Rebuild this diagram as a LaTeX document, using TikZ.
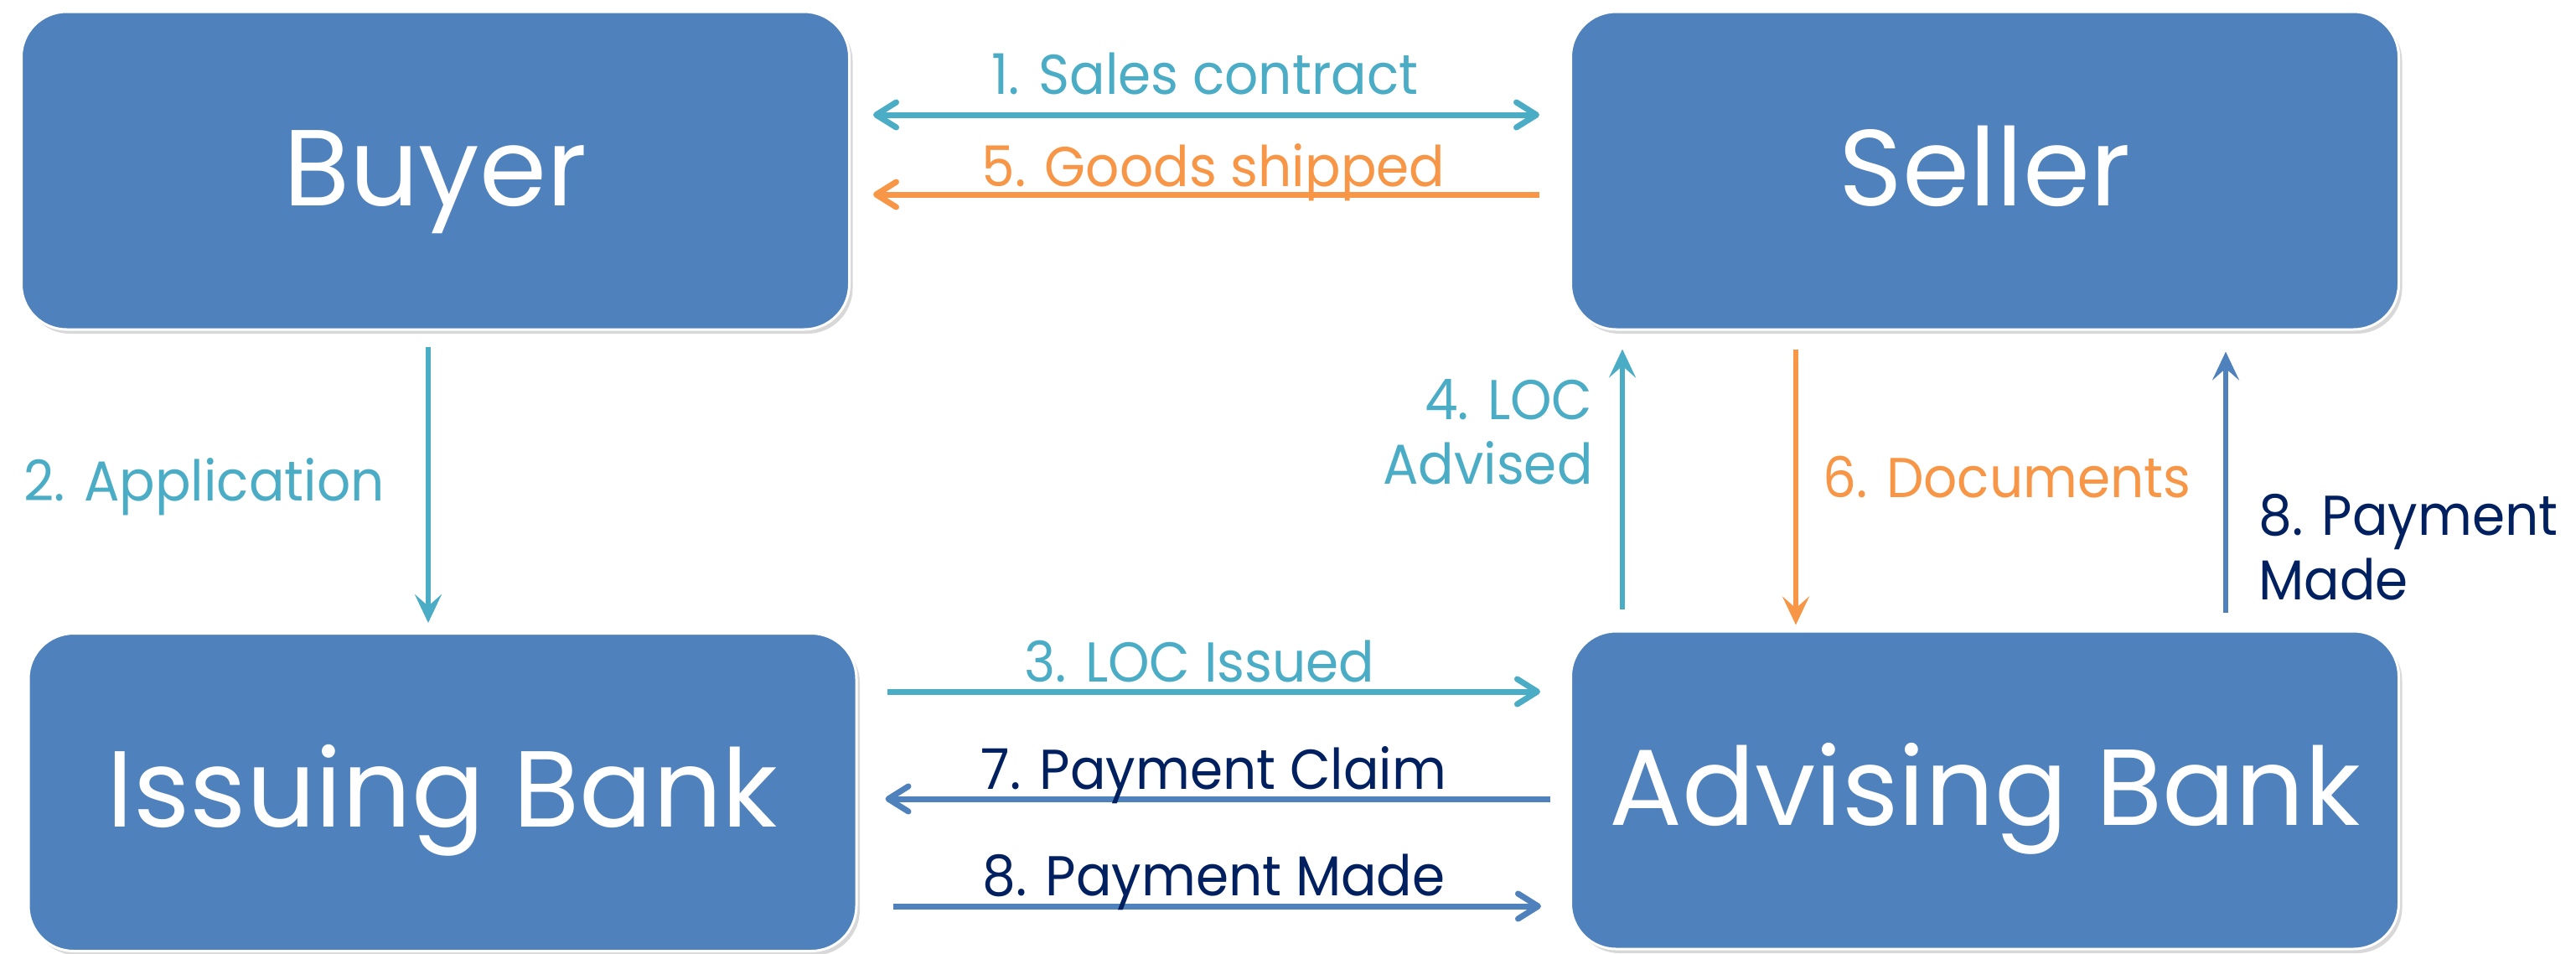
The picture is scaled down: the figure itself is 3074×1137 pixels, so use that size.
\documentclass[tikz,border=0pt]{standalone}
\usepackage{fontspec}
\setmainfont{Poppins}
\newfontfamily\labfont[FakeStretch=0.94]{Poppins}
\usetikzlibrary{arrows.meta,shadows}
\definecolor{boxblue}{HTML}{4F81BD}
\definecolor{myteal}{HTML}{4BACC6}
\definecolor{orng}{HTML}{F79646}
\definecolor{navyc}{HTML}{002060}
\begin{document}
\begin{tikzpicture}[x=0.5pt,y=-0.5pt,
  party/.style={rectangle, rounded corners=27pt, fill=boxblue, draw=white, line width=1.5pt,
    minimum width=494pt, minimum height=189.5pt, inner sep=0pt, text=white,
    font=\fontsize{64.5}{70}\selectfont, text height=41.5pt, text depth=0pt,
    drop shadow={shadow xshift=2pt, shadow yshift=-2.5pt, opacity=0.3}},
  lab/.style={inner sep=0pt, font=\labfont\fontsize{33.5}{38.5}\selectfont},
  >={Straight Barb[length=12pt,width=15pt,round]},
  harr/.style={line width=3.5pt},
  varr/.style={line width=3pt, -{Stealth[length=17pt,width=16pt,inset=7pt]}},
]
\fill[white] (0,0) rectangle (3074,1137);
\useasboundingbox (0,0) rectangle (3074,1137);

\node[party] (buyer) at (519.5,203.5) {Buyer};
\node[party] (seller) at (2368.5,203.5) {Seller};
\node[party] (issuing) at (528,945) {Issuing Bank};
\node[party] (advising) at (2368.5,942.5) {Advising Bank};

% horizontal connectors
\draw[harr, myteal, <->] ([shift={(27,-66.5)}]buyer.east) -- ([shift={(-36,-66.5)}]seller.west);
\draw[harr, orng, ->] ([shift={(-36,28.5)}]seller.west) -- ([shift={(27,28.5)}]buyer.east);
\draw[harr, myteal, ->] ([shift={(35,-120)}]issuing.east) -- ([shift={(-35,-117.5)}]advising.west);
\draw[harr, boxblue, ->] ([shift={(-23,10.5)}]advising.west) -- ([shift={(33,8)}]issuing.east);
\draw[harr, boxblue, ->] ([shift={(42,136)}]issuing.east) -- ([shift={(-34,138.5)}]advising.west);

% vertical connectors
\draw[varr, myteal] ([shift={(-8.5,19)}]buyer.south) -- ([shift={(-17,-11)}]issuing.north);
\draw[varr, myteal] ([shift={(-432.5,-25)}]advising.north) -- ([shift={(-432.5,22)}]seller.south);
\draw[varr, orng] ([shift={(-225.5,22)}]seller.south) -- ([shift={(-225.5,-6)}]advising.north);
\draw[varr, boxblue] ([shift={(287.5,-21)}]advising.north) -- ([shift={(287.5,25)}]seller.south);

% labels
\node[lab, text=myteal, anchor=base] (l1) at (1438,112) {1. Sales contract};
\node[lab, text=orng, anchor=base] (l5) at (1448,222) {5. Goods shipped};
\node[lab, text=myteal, anchor=base west] (l2) at (28,597) {2. Application};
\node[lab, text=myteal, anchor=base] (l3) at (1431.5,813) {3. LOC Issued};
\node[lab, text=navyc, anchor=base] (l7) at (1448.5,941) {7. Payment Claim};
\node[lab, text=navyc, anchor=base] (l8) at (1448.5,1068) {8. Payment Made};
\node[lab, text=orng, anchor=base west] (l6) at (2175,593) {6. Documents};
\node[lab, text=myteal, align=right, anchor=base east] (l4) at (1901,577) {4. LOC\\Advised};
\node[lab, text=navyc, align=left, anchor=base west] (l8v) at (2695,715) {8. Payment\\Made};
\end{tikzpicture}
\end{document}
